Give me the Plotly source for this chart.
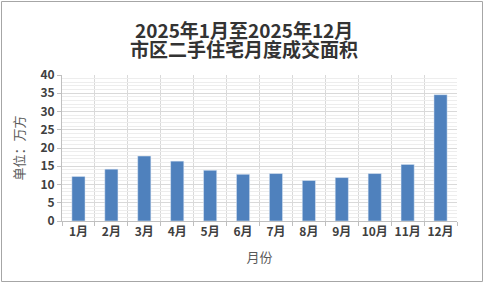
import plotly.graph_objects as go

months = ["1月", "2月", "3月", "4月", "5月", "6月", "7月", "8月", "9月", "10月", "11月", "12月"]
area = [12.2, 14.2, 17.8, 16.4, 13.9, 12.8, 13.0, 11.1, 11.9, 13.0, 15.5, 34.6]
title_lines = ["2025年1月至2025年12月", "市区二手住宅月度成交面积"]

W, H = 485, 284
L, R, T, B = 62, 28, 75, 63
pw, ph = W - L - R, H - T - B

def px_x(p):
    return (p - L) / pw

def px_y(p):
    return (H - B - p) / ph

font = "Noto Sans CJK SC, Microsoft YaHei, sans-serif"
xs = list(range(1, len(months) + 1))

fig = go.Figure(go.Bar(x=xs, y=area, marker_color="#4F81BD", width=0.4))

annotations = []
for i, line in enumerate(title_lines):
    annotations.append(dict(
        text="<b>%s</b>" % line, xref="paper", yref="paper",
        x=px_x(244), y=px_y(29.5 + 19 * i), xanchor="center", yanchor="middle",
        showarrow=False, font=dict(size=19, color="#333333", family=font),
    ))

fig.update_layout(
    width=W, height=H,
    margin=dict(l=L, r=R, t=T, b=B),
    paper_bgcolor="white", plot_bgcolor="white",
    font=dict(family=font, color="#404040"),
    showlegend=False,
    annotations=annotations,
    xaxis=dict(
        range=[0.5, len(months) + 0.5],
        tickvals=xs, ticktext=["<b>%s</b>" % m for m in months],
        tickfont=dict(size=12, color="#404040"),
        showgrid=False, ticks="", showline=True, linecolor="#BFBFBF", linewidth=1,
        minor=dict(tickvals=[i + 0.5 for i in range(0, len(months) + 1)], showgrid=True,
                   gridcolor="#D9D9D9", gridwidth=1, ticks="outside", ticklen=4, tickcolor="#BFBFBF"),
        title=dict(text="月份", font=dict(size=13, color="#595959"), standoff=14),
        zeroline=False,
    ),
    yaxis=dict(
        range=[0, 40], dtick=5,
        tickfont=dict(size=12, color="#404040"),
        tickprefix="<b>", ticksuffix="</b>",
        showgrid=True, gridcolor="#D9D9D9", gridwidth=1,
        ticks="outside", ticklen=4, tickcolor="#BFBFBF",
        showline=True, linecolor="#BFBFBF", linewidth=1,
        minor=dict(dtick=1, showgrid=True, gridcolor="#EDEDED", gridwidth=1),
        title=dict(text="单位：万方", font=dict(size=13, color="#595959"), standoff=12),
        zeroline=False,
    ),
    shapes=[dict(
        type="rect", xref="paper", yref="paper",
        x0=px_x(1.5), x1=px_x(W - 2.5),
        y0=px_y(H - 2.5), y1=px_y(1.5),
        line=dict(color="#A6A6A6", width=1), layer="below",
    )],
)

fig.write_html("out.html")
